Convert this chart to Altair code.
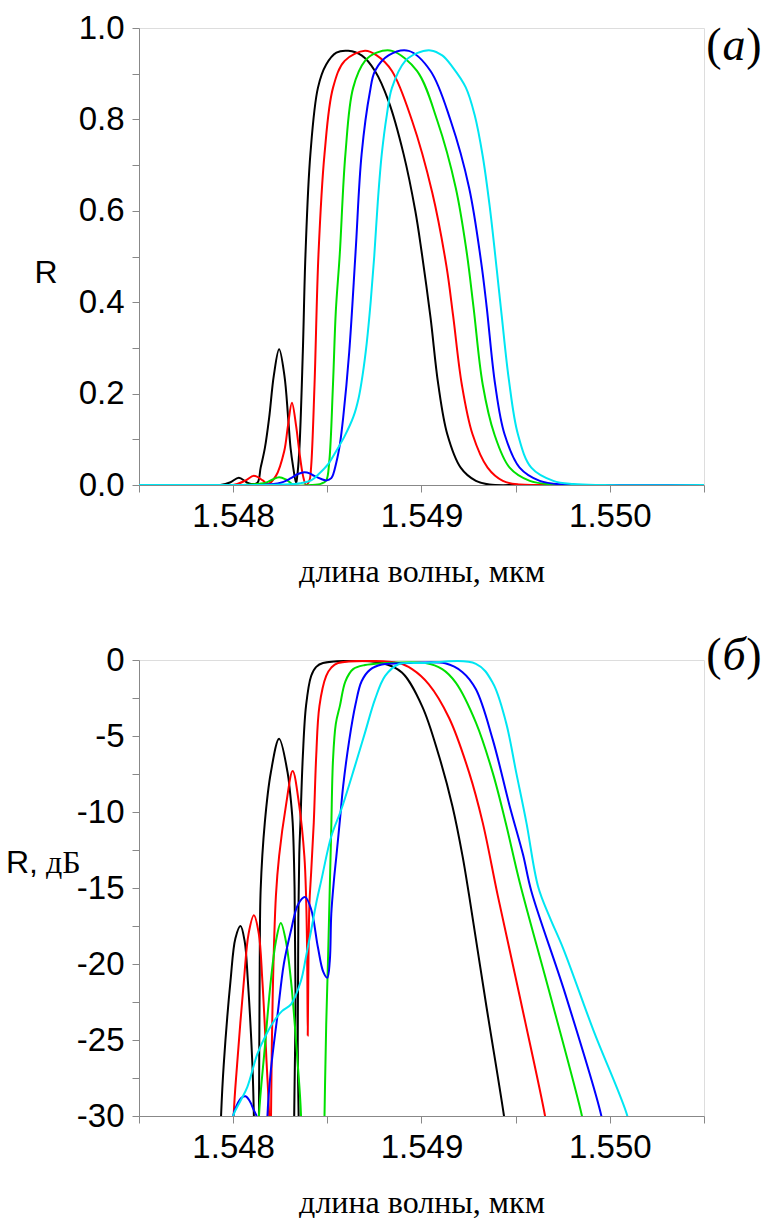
import altair as alt
import pandas as pd

# ---------- panel (a): linear reflectance R ----------
black_a_wl = [1.5475, 1.547825, 1.547932, 1.547986, 1.548030, 1.548071, 1.548098, 1.548129, 1.548146, 1.548168,
              1.548191, 1.548216, 1.548244, 1.548272, 1.548292, 1.548305, 1.548319, 1.548334, 1.548339, 1.548351,
              1.548370, 1.548384, 1.548410, 1.548450, 1.548494, 1.548548, 1.548611, 1.548682, 1.548753, 1.548825,
              1.548905, 1.548967, 1.549000, 1.549048, 1.549089, 1.549137, 1.549208, 1.549289, 1.549361, 1.549539, 1.5505]
black_a_R = [0, 0, 0, 0.006, 0.016, 0.006, 0.002, 0.005, 0.038, 0.08,
             0.147, 0.24, 0.297, 0.24, 0.147, 0.08, 0.038, 0.004, 0.015, 0.074,
             0.293, 0.505, 0.724, 0.869, 0.920, 0.946, 0.950, 0.940, 0.906, 0.840,
             0.724, 0.600, 0.512, 0.366, 0.220, 0.111, 0.038, 0.009, 0.001, 0, 0]

red_a_wl = [1.5475, 1.548, 1.548066, 1.548110, 1.548157, 1.548182, 1.548227, 1.548271, 1.548291, 1.548312,
            1.548334, 1.548351, 1.548371, 1.548387, 1.548405, 1.548414, 1.548432, 1.548453, 1.548485, 1.548530,
            1.548592, 1.548700, 1.548762, 1.548843, 1.548950, 1.549057, 1.549132, 1.549168, 1.549214, 1.549271,
            1.549351, 1.549432, 1.549521, 1.549646, 1.5505]
red_a_R = [0, 0, 0.01, 0.02, 0.01, 0.002, 0.02, 0.074, 0.13, 0.18,
           0.13, 0.074, 0.02, 0.0, 0.01, 0.04, 0.22, 0.505, 0.724, 0.869,
           0.928, 0.95, 0.94, 0.906, 0.797, 0.64, 0.48, 0.37, 0.22, 0.111,
           0.038, 0.009, 0.001, 0, 0]

green_a_wl = [1.5475, 1.548039, 1.548173, 1.548210, 1.548244, 1.548280, 1.548323, 1.548414, 1.548468, 1.548494,
              1.548510, 1.548530, 1.548545, 1.548566, 1.548596, 1.548637, 1.548700, 1.548762, 1.548843, 1.548976,
              1.549084, 1.549182, 1.549239, 1.549276, 1.549325, 1.549387, 1.549468, 1.549575, 1.549700, 1.549860, 1.5505]
green_a_R = [0, 0, 0.005, 0.012, 0.017, 0.012, 0.0, 0.0, 0.003, 0.01,
             0.05, 0.22, 0.38, 0.505, 0.724, 0.869, 0.928, 0.946, 0.95, 0.906,
             0.797, 0.65, 0.512, 0.39, 0.22, 0.111, 0.038, 0.009, 0.001, 0, 0]

blue_a_wl = [1.5475, 1.548146, 1.548253, 1.548307, 1.548344, 1.548378, 1.548409, 1.548430, 1.548468, 1.548494,
             1.548521, 1.548548, 1.548567, 1.548584, 1.548616, 1.548650, 1.548682, 1.548726, 1.548753, 1.548825,
             1.548932, 1.549048, 1.549155, 1.549253, 1.549316, 1.549346, 1.549391, 1.549441, 1.549521, 1.549628,
             1.549753, 1.549914, 1.5505]
blue_a_R = [0, 0, 0.005, 0.015, 0.024, 0.028, 0.025, 0.02, 0.013, 0.01,
            0.015, 0.05, 0.09, 0.147, 0.29, 0.51, 0.724, 0.86, 0.906, 0.94,
            0.95, 0.906, 0.797, 0.65, 0.49, 0.39, 0.22, 0.111, 0.038, 0.009,
            0.001, 0, 0]

cyan_a_wl = [1.5475, 1.548093, 1.548253, 1.548360, 1.548414, 1.548457, 1.548503, 1.548548, 1.548592, 1.548639,
             1.548666, 1.548687, 1.548709, 1.548730, 1.548749, 1.548768, 1.548789, 1.548816, 1.548843, 1.548914,
             1.548976, 1.549048, 1.549110, 1.549164, 1.549235, 1.549282, 1.549325, 1.549362, 1.549400, 1.549426,
             1.549464, 1.549512, 1.549583, 1.549700, 1.549807, 1.549967, 1.5505]
cyan_a_R = [0, 0, 0.001, 0.004, 0.01, 0.025, 0.045, 0.075, 0.107, 0.15,
            0.19, 0.24, 0.31, 0.40, 0.50, 0.62, 0.724, 0.81, 0.869, 0.928,
            0.945, 0.951, 0.94, 0.915, 0.87, 0.81, 0.72, 0.61, 0.47, 0.37,
            0.23, 0.111, 0.038, 0.009, 0.002, 0, 0]

# ---------- panel (б): reflectance in dB ----------
black_b_wl = [1.547921, 1.547936, 1.547950, 1.547986, 1.548012, 1.548039, 1.548061, 1.548078, 1.548102, 1.548110,
              1.548117, 1.548133, 1.548137, 1.548141, 1.548146, 1.548168, 1.548200, 1.548244, 1.548289, 1.548302,
              1.548316, 1.548326, 1.548331, 1.548334, 1.548340, 1.548343, 1.548346, 1.548351, 1.548357, 1.548370,
              1.548387, 1.548414, 1.548441, 1.548477, 1.548789, 1.548896, 1.549003, 1.549093, 1.549164, 1.549218,
              1.549253, 1.549341, 1.549438, 1.549448]
black_b_dB = [-36, -29.9, -26.6, -21.1, -18.3, -17.5, -18.5, -21.1, -26.6, -30,
              -36, -36, -30, -20, -15.1, -10.7, -7.4, -5.18, -7.4, -8.7,
              -10.7, -15, -22, -36, -36, -25, -17, -12.8, -10.7, -6.3,
              -3.0, -1.05, -0.45, -0.2, -0.2, -0.83, -3.03, -6.32, -9.6, -12.9,
              -15.5, -22.5, -30, -31]

red_b_wl = [1.547996, 1.548003, 1.548021, 1.548057, 1.548082, 1.548110, 1.548136, 1.548155, 1.548178, 1.548191,
            1.548197, 1.548201, 1.548210, 1.548227, 1.548244, 1.548280, 1.548316, 1.548351, 1.548378, 1.548387,
            1.548393, 1.548396, 1.548400, 1.548405, 1.548414, 1.548428, 1.548441, 1.548458, 1.548494, 1.548521,
            1.548557, 1.548878, 1.548950, 1.549039, 1.549146, 1.549253, 1.549325, 1.549405, 1.549528, 1.549656,
            1.549667]
red_b_dB = [-36, -29.9, -26.6, -21.1, -18, -16.8, -18, -21.1, -26.6, -30,
            -36, -30, -22, -15.5, -12.9, -9.6, -7.3, -9.6, -12.9, -15.5,
            -19.5, -24.7, -19.5, -16, -14, -10.7, -6.3, -3.03, -1.05, -0.5,
            -0.2, -0.2, -0.6, -1.6, -3.8, -7.41, -10.7, -15.5, -22.5, -30,
            -31]

green_b_wl = [1.548125, 1.548137, 1.548168, 1.548200, 1.548227, 1.548253, 1.548280, 1.548307, 1.548343, 1.548360,
              1.548366, 1.548478, 1.548485, 1.548494, 1.548503, 1.548512, 1.548521, 1.548530, 1.548545, 1.548567,
              1.548596, 1.548637, 1.548700, 1.548789, 1.549021, 1.549110, 1.549182, 1.549289, 1.549378, 1.549449,
              1.549521, 1.549689, 1.549852, 1.549866]
green_b_dB = [-36, -30, -25.5, -21.1, -18.5, -17.3, -18.5, -21.1, -26.6, -29.9,
              -36, -36, -30, -24, -20, -15.5, -11, -6.6, -4.2, -3.0,
              -1.4, -0.6, -0.33, -0.22, -0.2, -0.6, -1.49, -4.12, -7.41, -10.8,
              -14.6, -22.3, -30, -31]

blue_b_wl = [1.547991, 1.548000, 1.548023, 1.548044, 1.548066, 1.548087, 1.548109, 1.548129, 1.548136, 1.548176,
             1.548182, 1.548200, 1.548236, 1.548269, 1.548307, 1.548344, 1.548382, 1.548414, 1.548450, 1.548478,
             1.548500, 1.548513, 1.548521, 1.548535, 1.548548, 1.548567, 1.548584, 1.548616, 1.548650, 1.548682,
             1.548726, 1.548789, 1.548932, 1.549126, 1.549218, 1.549289, 1.549378, 1.549468, 1.549539, 1.549583,
             1.549764, 1.549955, 1.549967]
blue_b_dB = [-36, -30, -29.2, -28.8, -28.7, -29, -29.6, -30.2, -36, -36,
             -30, -27, -23.3, -20, -17.8, -16.1, -15.6, -16.4, -18.9, -20.5,
             -20.9, -19.8, -16.7, -14.5, -12.9, -10.5, -8.3, -5.3, -2.9, -1.4,
             -0.65, -0.3, -0.2, -0.22, -0.8, -1.93, -5.22, -9.6, -12.8, -15.2,
             -22.0, -30, -31]

cyan_b_wl = [1.547991, 1.548000, 1.548039, 1.548075, 1.548129, 1.548173, 1.548217, 1.548259, 1.548307, 1.548360,
             1.548387, 1.548414, 1.548441, 1.548468, 1.548521, 1.548575, 1.548646, 1.548700, 1.548753, 1.548807,
             1.548878, 1.549003, 1.549289, 1.549378, 1.549449, 1.549503, 1.549557, 1.549619, 1.549680, 1.549753,
             1.549914, 1.550093, 1.550107]
cyan_b_dB = [-32, -30, -29, -28.1, -25.9, -24.7, -23.75, -23.1, -22.65, -21.1,
             -19.5, -17.8, -16, -14.5, -11.6, -9.8, -7.0, -4.78, -2.59, -1.05,
             -0.28, -0.2, -0.25, -1.49, -4.12, -7.41, -10.7, -14.9, -16.9, -19.0,
             -24.4, -30, -31]

colors = ["#000000", "#ff0000", "#00e000", "#0000ff", "#00e6f2"]

x_ticks = [1.5475, 1.548, 1.5485, 1.549, 1.5495, 1.550, 1.5505]
ya_ticks = [0, 0.1, 0.2, 0.3, 0.4, 0.5, 0.6, 0.7, 0.8, 0.9, 1.0]
yb_ticks = [0, -2.5, -5, -7.5, -10, -12.5, -15, -17.5, -20, -22.5, -25, -27.5, -30]

x_title = "длина волны, мкм"
SANS = "Liberation Sans"
SERIF = "Liberation Serif"
W, HA, HB = 565, 457, 456

x_axis = alt.Axis(values=x_ticks, grid=False,
                  labelExpr="abs(datum.value*1000 - round(datum.value*1000)) < 0.01 ? format(datum.value, '.3f') : ''",
                  title=x_title, titleFont=SERIF, titleFontSize=32, titleFontWeight="normal",
                  titleBaseline="alphabetic", titleY=96,
                  labelFont=SANS, labelFontSize=33, labelPadding=8, tickSize=7,
                  labelFlush=False, labelOverlap=False)
x_enc = alt.X("wl:Q", scale=alt.Scale(domain=[1.5475, 1.5505], nice=False, zero=False), axis=x_axis)


def y_enc(field, domain, ticks, expr):
    return alt.Y(f"{field}:Q", scale=alt.Scale(domain=domain, nice=False, zero=False),
                 axis=alt.Axis(values=ticks, labelExpr=expr, title=None, grid=False, labelFont=SANS,
                               labelFontSize=33, labelPadding=8, tickSize=7,
                               labelFlush=False, labelOverlap=False))


def lines(series, field, domain, ticks, expr):
    layers = []
    for (wl, val), col in zip(series, colors):
        df = pd.DataFrame({"wl": wl, field: val})
        layers.append(alt.Chart(df).mark_line(color=col, strokeWidth=2, clip=True, interpolate="catmull-rom")
                      .encode(x=x_enc, y=y_enc(field, domain, ticks, expr)))
    return layers


def txt(s, x, y, font, size, style="normal", align="center"):
    return alt.Chart(pd.DataFrame({"t": [s]})).mark_text(
        font=font, fontSize=size, fontStyle=style, align=align, baseline="middle", color="black"
    ).encode(x=alt.value(x), y=alt.value(y), text="t:N")


def panel_label(letter, y):
    return [txt("(", 575, y, SERIF, 46), txt(letter, 595, y, SERIF, 46, "italic"), txt(")", 615, y, SERIF, 46)]


expr_a = "round(datum.value*10) % 2 == 0 ? format(datum.value, '.1f') : ''"
expr_b = "datum.value % 5 == 0 ? '' + datum.value : ''"

top = alt.layer(
    *lines([(black_a_wl, black_a_R), (red_a_wl, red_a_R), (green_a_wl, green_a_R),
            (blue_a_wl, blue_a_R), (cyan_a_wl, cyan_a_R)], "R", [0, 1], ya_ticks, expr_a),
    txt("R", -93, 245, SANS, 32),
    *panel_label("а", 18),
).properties(width=W, height=HA)

bottom = alt.layer(
    *lines([(black_b_wl, black_b_dB), (red_b_wl, red_b_dB), (green_b_wl, green_b_dB),
            (blue_b_wl, blue_b_dB), (cyan_b_wl, cyan_b_dB)], "dB", [-30, 0], yb_ticks, expr_b),
    txt("R,", -133, 203, SANS, 32, align="left"),
    txt("дБ", -93, 203, SERIF, 32, align="left"),
    *panel_label("б", -4),
).properties(width=W, height=HB)

chart = alt.vconcat(top, bottom, spacing=175, bounds="flush").properties(
    padding={"left": 5, "top": 11, "right": 0, "bottom": 0}
).configure_view(stroke=None).configure_axis(
    grid=False, domainColor="black", domainWidth=1.5, tickColor="black", tickWidth=1.5,
    labelColor="black", titleColor="black"
).configure(background="white")

chart.save("out.html", embed_options={"renderer": "svg", "actions": False})
